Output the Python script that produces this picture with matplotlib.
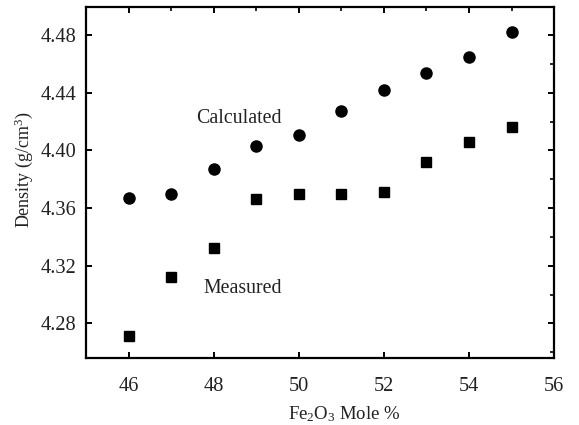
import matplotlib
matplotlib.use("Agg")
import matplotlib.pyplot as plt
from matplotlib.ticker import MultipleLocator

plt.rcParams['font.family'] = 'Liberation Serif'
plt.rcParams['mathtext.fontset'] = 'custom'
plt.rcParams['mathtext.rm'] = 'Liberation Serif'
plt.rcParams['mathtext.it'] = 'Liberation Serif:italic'

# Fe2O3 content (mole %) and densities (g/cm^3)
fe2o3_mole = [46, 47, 48, 49, 50, 51, 52, 53, 54, 55]
density_calculated = [4.367, 4.370, 4.387, 4.403, 4.411, 4.427, 4.442, 4.454, 4.465, 4.482]
density_measured = [4.271, 4.312, 4.332, 4.366, 4.370, 4.370, 4.371, 4.392, 4.406, 4.416]

fig = plt.figure(figsize=(5.79, 4.25), dpi=100)
ax = fig.add_axes([0.1485, 0.1576, 0.8085, 0.826])

ax.plot(fe2o3_mole, density_calculated, linestyle='none', marker='o', markersize=8, color='black')
ax.plot(fe2o3_mole, density_measured, linestyle='none', marker='s', markersize=7.5, color='black')

ax.text(47.58, 4.4224, "Calculated", fontsize=14.3, va='center', ha='left', color='#222222')
ax.text(47.76, 4.3042, "Measured", fontsize=14.3, va='center', ha='left', color='#222222')

ax.set_xlim(45, 56)
ax.set_ylim(4.256, 4.4995)
ax.xaxis.set_major_locator(MultipleLocator(2))
ax.xaxis.set_minor_locator(MultipleLocator(1))
ax.set_yticks([4.28, 4.32, 4.36, 4.40, 4.44, 4.48])
ax.set_yticklabels(["4.28", "4.32", "4.36", "4.40", "4.44", "4.48"])
ax.yaxis.set_minor_locator(MultipleLocator(0.02))

for s in ax.spines.values():
    s.set_linewidth(1.6)

ax.tick_params(which='major', direction='in', top=True, right=True, length=4, width=1.4,
               labelsize=14.7, colors='black', labelcolor='#222222')
ax.tick_params(axis='x', which='major', pad=13.5)
ax.tick_params(axis='y', which='major', pad=7)
ax.tick_params(which='minor', direction='in', top=True, right=True, bottom=False, left=False,
               length=3, width=1.2)

ax.set_xlabel(r"Fe$_2$O$_3$ Mole %", fontsize=13.5, color='#222222', va='center')
ax.xaxis.set_label_coords(0.551, -0.16)
ax.set_ylabel(r"Density (g/cm$^3$)", fontsize=13, color='#222222', va='center')
ax.yaxis.set_label_coords(-0.132, 0.536)

fig.savefig("out.png", dpi=100)
